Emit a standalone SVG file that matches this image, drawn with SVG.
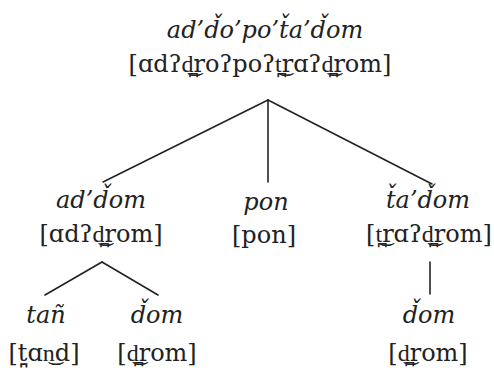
<svg xmlns="http://www.w3.org/2000/svg" width="494" height="374" viewBox="0 0 494 374">
<style>
text{font-family:"DejaVu Serif",serif;font-size:24px;fill:#222;text-anchor:middle}
.it{font-style:italic}
.ln{stroke:#222;stroke-width:1.6;fill:none;stroke-linecap:round}
</style>
<rect width="494" height="374" fill="#fff"/>
<g id="connectors">
<line class="ln" x1="268" y1="100" x2="103" y2="182"/>
<line class="ln" x1="268" y1="100" x2="268" y2="182"/>
<line class="ln" x1="268" y1="100" x2="432" y2="184"/>
<line class="ln" x1="102" y1="262" x2="45" y2="295"/>
<line class="ln" x1="102" y1="262" x2="158" y2="295"/>
<line class="ln" x1="430" y1="262" x2="430" y2="294"/>
</g>
<g id="root">
<text class="it" x="265" y="38">ad’d͏̌o’po’t͏̌a’d͏̌om</text>
<text x="260" y="72">[ɑdʔd̪͜roʔpoʔt̪͜rɑʔd̪͜rom]</text>
</g>
<g id="n-addom">
<text class="it" x="101" y="208">ad’d͏̌om</text>
<text x="101" y="242">[ɑdʔd̪͜rom]</text>
</g>
<g id="n-pon">
<text class="it" x="266" y="210">pon</text>
<text x="264" y="243">[pon]</text>
</g>
<g id="n-tadom">
<text class="it" x="428" y="208">t͏̌a’d͏̌om</text>
<text x="429" y="242">[t̪͜rɑʔd̪͜rom]</text>
</g>
<g id="n-tan">
<text class="it" x="46" y="323">tañ</text>
<text x="44" y="361">[t̪ɑn͜d]</text>
</g>
<g id="n-dom1">
<text class="it" x="157" y="323">d͏̌om</text>
<text x="157" y="361">[d̪͜rom]</text>
</g>
<g id="n-dom2">
<text class="it" x="429" y="323">d͏̌om</text>
<text x="428" y="361">[d̪͜rom]</text>
</g>
</svg>
